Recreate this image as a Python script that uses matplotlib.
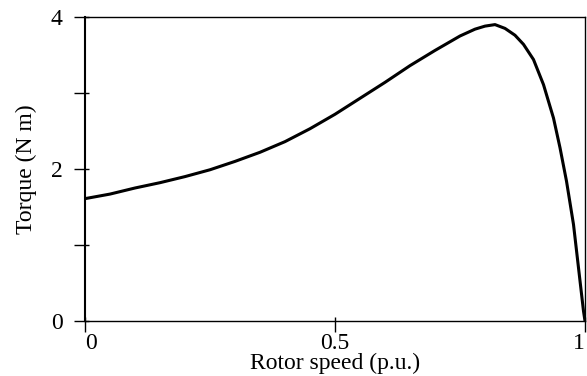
import matplotlib
matplotlib.use("Agg")
import matplotlib.pyplot as plt

speed = [0.0, 0.05, 0.1, 0.15, 0.2, 0.25, 0.3, 0.35, 0.4, 0.45, 0.5, 0.55,
         0.6, 0.65, 0.7, 0.75, 0.78, 0.80, 0.82, 0.84, 0.86, 0.877, 0.897,
         0.917, 0.937, 0.95, 0.963, 0.977, 0.987, 0.997, 1.0]
torque = [1.61, 1.67, 1.75, 1.82, 1.90, 1.99, 2.10, 2.22, 2.36, 2.53, 2.72, 2.93,
          3.14, 3.36, 3.56, 3.75, 3.84, 3.88, 3.90, 3.85, 3.76, 3.64, 3.44,
          3.11, 2.67, 2.28, 1.84, 1.27, 0.70, 0.13, 0.0]

xticks = [0, 0.5, 1]
xticklabels = ["0", "0.5", "1"]
yticks = [0, 1, 2, 3, 4]
yticklabels = ["0", "", "2", "", "4"]

plt.rcParams['font.family'] = ['Liberation Serif', 'DejaVu Serif']
plt.rcParams['font.size'] = 17

fig = plt.figure(figsize=(5.87, 3.76), dpi=100)
ax = fig.add_axes([85/587, 55/376, 500/587, 304/376])
ax.plot(speed, torque, color='black', lw=2.2, solid_joinstyle='round',
        solid_capstyle='round')
ax.set_xlim(0, 1)
ax.set_ylim(0, 4)
ax.set_xticks(xticks)
ax.set_xticklabels(xticklabels)
ax.set_yticks(yticks)
ax.set_yticklabels(yticklabels)
ax.xaxis.remove_overlapping_locs = False
ax.yaxis.remove_overlapping_locs = False
ax.set_xticks(xticks, minor=True)
ax.set_yticks(yticks, minor=True)
ax.tick_params(which='major', direction='out', length=8, width=1.0, pad=0.5)
ax.tick_params(axis='y', which='major', pad=8)
ax.tick_params(which='minor', direction='in', length=3, width=1.0)
labs = ax.get_xticklabels()
labs[0].set_ha('left')
labs[-1].set_ha('right')
for s in ax.spines.values():
    s.set_linewidth(1.0)
ax.spines['left'].set_linewidth(1.5)
ax.set_xlabel("Rotor speed (p.u.)", labelpad=-0.5)
ax.set_ylabel("Torque (N m)", labelpad=10)
fig.savefig("out.png", dpi=100)
